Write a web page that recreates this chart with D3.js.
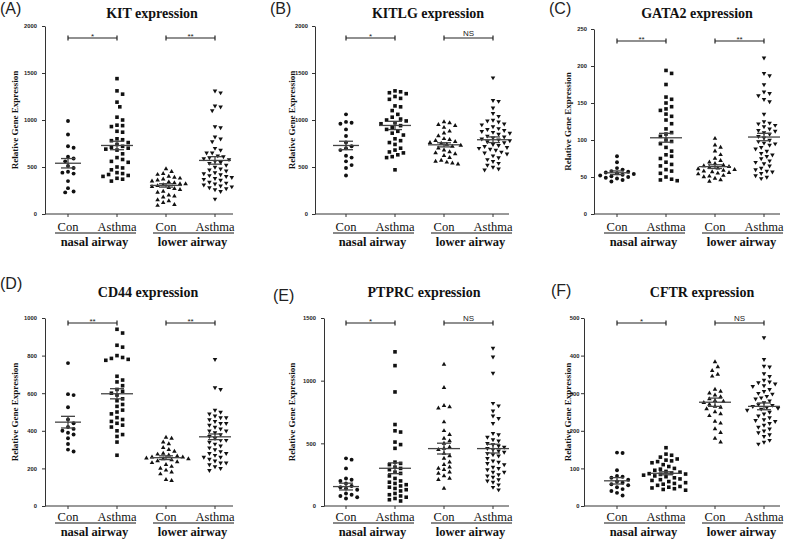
<!DOCTYPE html>
<html><head><meta charset="utf-8">
<script src="https://cdn.jsdelivr.net/npm/d3@7/dist/d3.min.js"></script>
<style>body{margin:0;background:#fff}svg{display:block}</style>
</head><body>
<svg id="c" width="790" height="539"></svg>
<script>
// ---------- data ----------
const panelLetters = ["(A)","(B)","(C)","(D)","(E)","(F)"];
const genes = ["KIT","KITLG","GATA2","CD44","PTPRC","CFTR"];
const yMax = [2000,2000,250,1000,1500,500];
const yTickStep = [500,500,50,200,500,100];
const categories = ["Con","Asthma","Con","Asthma"];
const sites = ["nasal airway","lower airway"];
const significance = [["*","**"],["*","NS"],["**","**"],["**","**"],["*","NS"],["*","NS"]];
const means = [[540,729,304,570],[729,942,736,790],[55.7,103,64,104],[446,597,257,368],[155,301,458,458],[67,87,276,265]];
const sems  = [[50,45,18,40],[45,44,22,30],[2.5,6,2.5,5],[31,27,10,15],[27,43,43,35],[8.5,4,11,9]];

const kitValues = [
  [990,845,720,705,610,590,560,510,490,450,440,430,350,275,240,230],
  [1440,1310,1275,1190,1140,1030,1000,945,940,930,880,870,800,790,780,760,740,720,710,700,690,680,640,600,580,560,550,500,490,470,440,430,420,410,400,380,370,350],
  [480,450,430,420,400,390,380,370,360,350,340,330,320,310,300,290,280,270,260,240,230,200,190,180,150,140,120,100,90,320],
  [1310,1290,1150,1140,1100,930,920,820,800,770,700,680,650,620,600,590,580,560,540,520,500,480,470,460,440,420,400,390,380,360,340,320,300,290,280,270,260,240,160,650,610,550,430,410,370,330,310]
];
const kitlgValues = [
  [1060,980,970,960,900,830,760,720,700,680,620,600,560,520,490,410],
  [1310,1300,1290,1280,1250,1230,1220,1150,1140,1100,1060,1030,1010,1000,990,970,960,940,920,900,880,860,840,800,780,760,740,700,680,660,650,630,610,600,470],
  [980,970,950,940,920,880,860,830,800,790,780,770,760,750,740,730,720,700,680,660,650,640,600,570,560,550,540,530,620],
  [1450,1210,1200,1130,1070,1040,1000,990,980,960,950,930,900,890,880,860,850,830,820,810,800,790,780,770,760,740,730,720,700,680,660,650,640,620,600,580,560,540,520,500,480,470,710,690,870,910]
];
const gata2Values = [
  [78,70,62,60,58,57,56,55,54,53,52,51,50,49,48,46,44],
  [194,190,175,158,155,150,145,142,140,135,132,127,122,115,110,108,105,100,98,95,90,85,80,78,75,70,67,65,60,58,55,50,47,46,45],
  [102,93,90,85,80,75,72,70,68,66,65,64,63,62,61,60,59,58,57,56,55,54,52,51,50,48,46,44],
  [211,190,187,175,165,163,160,155,152,135,125,123,120,118,115,113,110,108,105,103,100,98,96,93,90,88,85,82,80,78,75,72,70,68,65,62,60,58,57,55,52,50,48,122,112,95]
];
const cd44Values = [
  [760,595,590,525,460,440,420,400,390,380,360,330,300,290,410],
  [940,920,855,845,800,790,785,780,775,690,670,660,640,620,610,600,590,570,560,540,530,510,500,490,470,460,450,440,430,420,400,380,370,340,270],
  [365,360,340,330,310,300,290,280,275,270,265,260,255,250,245,240,235,230,220,210,200,190,180,170,140,135,260,250],
  [780,630,620,510,500,490,480,470,460,450,440,430,420,410,400,390,380,370,360,350,340,330,320,310,300,290,280,270,260,250,240,230,220,210,200,190,470,440,400,350,280,260,230]
];
const ptprcValues = [
  [380,370,300,220,210,200,180,160,150,140,130,100,90,80,70,60],
  [1230,1120,910,650,600,590,510,490,460,350,340,330,310,300,290,270,260,240,220,200,190,180,170,160,150,140,130,120,100,90,80,70,60,50,40],
  [1130,945,800,790,780,670,600,570,540,520,500,470,450,420,400,380,350,330,310,300,290,270,260,240,220,210,140,460],
  [1260,1190,1060,820,800,760,720,700,660,580,570,550,530,520,500,490,480,470,460,450,440,430,420,400,380,360,350,330,310,300,290,270,250,240,230,210,200,190,170,150,130,410,340,270]
];
const cftrValues = [
  [142,141,95,80,78,75,70,65,62,58,55,50,45,40,35,28],
  [155,138,135,130,125,122,120,118,115,110,105,100,98,95,92,90,88,86,85,84,82,80,78,75,72,70,68,65,62,60,58,55,52,50,48,46,44,42],
  [383,370,360,350,345,310,305,300,295,290,285,280,278,275,270,265,262,258,250,245,240,225,220,205,195,180,170],
  [448,390,372,370,352,345,335,330,328,325,320,310,305,300,298,292,288,285,280,275,270,268,265,262,260,255,250,245,240,235,230,225,220,215,210,205,200,195,190,185,175,170,165,228,318,258]
];
const allValues = [kitValues,kitlgValues,gata2Values,cd44Values,ptprcValues,cftrValues];

// ---------- layout ----------
const SERIF = "'Liberation Serif', 'Times New Roman', 'DejaVu Serif', serif";
const SANS = "'Liberation Sans', Arial, 'DejaVu Sans', sans-serif";
const svg = d3.select("#c");
const colLayout = [
  {axisX:[45,45], cat0:68, end:233, labelX:15, titleX:[152,148], pad:[5,5]},
  {axisX:[315,324], cat0:346, end:509, labelX:292, titleX:[428,424], pad:[4,5]},
  {axisX:[594,584], cat0:617, end:780, labelX:568, titleX:[697,702], pad:[4,1.5]}
];
const rowLayout = [
  {top:26, bottom:214, bracketOff:12, titleY:18, catY:231, siteY:246},
  {top:318, bottom:506, bracketOff:5, titleY:297, catY:521, siteY:536}
];
const letterPos = [[0,14],[270,14],[549,14],[0,289],[273,301],[551,296]];
const catStep = 49;
const shapes = [d3.symbolCircle, d3.symbolSquare, d3.symbolTriangle, d3.symbolTriangle];
const shapeSize = [12, 13, 9, 9];
const meanHalf = [13, 16, 16, 16];
const ink = "#111";

function swarm(vals, y, dmin, step) {
  const pts = vals.map(v => ({v, y: y(v)})).sort((a,b)=>a.y-b.y);
  const placed = [];
  const offs = [0];
  for (let i=1;i<30;i++){ offs.push(i*step, -i*step); }
  for (const p of pts) {
    for (const o of offs) {
      if (placed.every(q => (q.x-o)*(q.x-o)+(q.y-p.y)*(q.y-p.y) >= dmin*dmin)) { p.x=o; break; }
    }
    placed.push(p);
  }
  return pts;
}

genes.forEach((gene, pi) => {
  const col = colLayout[pi%3], row = rowLayout[Math.floor(pi/3)], r = Math.floor(pi/3);
  const axisX = col.axisX[r];
  const top = (pi===2) ? 29 : row.top;
  const g = svg.append("g");
  const y = d3.scaleLinear().domain([0,yMax[pi]]).range([row.bottom, top]);
  const x = d3.scaleLinear().domain([0,3]).range([col.cat0, col.cat0+3*catStep]);

  svg.append("text").attr("x",letterPos[pi][0]).attr("y",letterPos[pi][1])
    .style("font-family",SANS).attr("font-size",16).attr("fill","#222")
    .text(panelLetters[pi]);
  g.append("text").attr("x",col.titleX[r]).attr("y",row.titleY).attr("text-anchor","middle")
    .style("font-family",SERIF).attr("font-weight","bold").attr("font-size",14)
    .attr("fill","#111").text(gene + " expression");

  const ticks = d3.range(0, yMax[pi]+1e-9, yTickStep[pi]);
  const ya = g.append("g").attr("transform",`translate(${axisX},0)`)
    .call(d3.axisLeft(y).tickValues(ticks).tickFormat(d3.format("d")).tickSize(3).tickPadding(col.pad[r]).tickSizeOuter(0));
  ya.select(".domain").attr("stroke","#333").attr("stroke-width",1);
  ya.selectAll(".tick line").attr("stroke","#333");
  ya.selectAll(".tick text").style("font-family",SANS).attr("font-weight","bold")
    .attr("font-size",5.8).attr("fill","#222");
  const xa = g.append("g").attr("transform",`translate(0,${row.bottom})`);
  xa.append("line").attr("x1",axisX).attr("x2",col.end).attr("stroke","#333").attr("stroke-width",1);
  categories.forEach((c,i)=>{
    xa.append("line").attr("x1",x(i)).attr("x2",x(i)).attr("y1",0).attr("y2",3).attr("stroke","#333");
  });

  g.append("text").attr("transform",`translate(${col.labelX},${(top+row.bottom)/2}) rotate(-90)`)
    .attr("text-anchor","middle").attr("dy","0.35em")
    .style("font-family",SERIF).attr("font-weight","bold").attr("font-size",9)
    .attr("fill","#111").text("Relative Gene Expression");

  categories.forEach((c,i)=>{
    g.append("text").attr("x",x(i)).attr("y",row.catY).attr("text-anchor","middle")
      .style("font-family",SERIF).attr("font-size",12.5).attr("fill","#111").text(c);
  });
  sites.forEach((s,k)=>{
    const x0 = x(2*k), x1 = x(2*k+1);
    g.append("line").attr("x1",x0-13).attr("x2",x1+19).attr("y1",row.catY+2).attr("y2",row.catY+2)
      .attr("stroke","#111").attr("stroke-width",1);
    g.append("text").attr("x",(x0+x1)/2+2).attr("y",row.siteY).attr("text-anchor","middle")
      .style("font-family",SERIF).attr("font-weight","bold").attr("font-size",12.5)
      .attr("fill","#111").text(s);
    const by = top + row.bracketOff;
    g.append("line").attr("x1",x0).attr("x2",x1).attr("y1",by).attr("y2",by).attr("stroke","#222").attr("stroke-width",1.2);
    [x0,x1].forEach(xx=> g.append("line").attr("x1",xx).attr("x2",xx).attr("y1",by-2.5).attr("y2",by+2.5).attr("stroke","#222").attr("stroke-width",1.2));
    const sig = significance[pi][k];
    g.append("text").attr("x",(x0+x1)/2).attr("y", sig==="NS" ? by-2 : by+1).attr("text-anchor","middle")
      .style("font-family",SANS).attr("font-size",8).attr("fill","#222").text(sig);
  });

  allValues[pi].forEach((vals, gi) => {
    const pts = swarm(vals, y, 5, 2.8);
    const sym = d3.symbol().type(shapes[gi]).size(shapeSize[gi]);
    g.append("g").selectAll("path").data(pts).join("path")
      .attr("d", sym)
      .attr("transform", d => `translate(${x(gi)+d.x},${d.y})${gi===3?" rotate(180)":""}`)
      .attr("fill", ink);
    const m = means[pi][gi], s = sems[pi][gi], cx = x(gi), hw = meanHalf[gi];
    const mg = g.append("g").attr("stroke","#444").attr("stroke-width",1.3);
    mg.append("line").attr("x1",cx-hw).attr("x2",cx+hw).attr("y1",y(m)).attr("y2",y(m));
    mg.append("line").attr("x1",cx).attr("x2",cx).attr("y1",y(m-s)).attr("y2",y(m+s));
    mg.append("line").attr("x1",cx-7).attr("x2",cx+7).attr("y1",y(m-s)).attr("y2",y(m-s));
    mg.append("line").attr("x1",cx-7).attr("x2",cx+7).attr("y1",y(m+s)).attr("y2",y(m+s));
  });
});
</script>
</body></html>
